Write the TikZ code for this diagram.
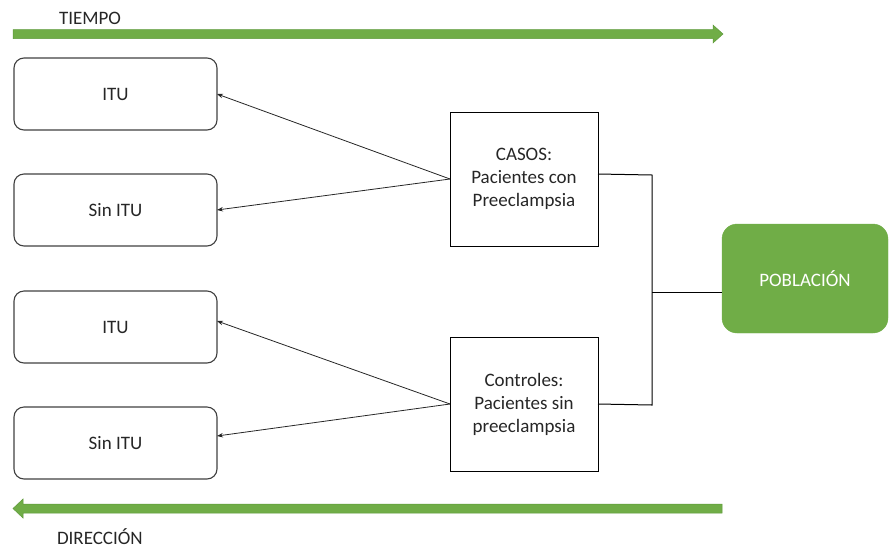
\documentclass[tikz,border=0pt]{standalone}
\usepackage{fontspec}
\setmainfont{Carlito}
\usetikzlibrary{arrows.meta}
\definecolor{ogreen}{HTML}{70AD47}
\definecolor{ogreendk}{HTML}{5E9A3A}
\definecolor{otext}{HTML}{262626}
\begin{document}
\begin{tikzpicture}[x=1pt,y=-1pt,
  every node/.style={font=\fontsize{19}{23}\selectfont, text=otext, inner sep=0pt, outer sep=0pt},
  rbox/.style={draw=black!75, line width=1.1pt, rounded corners=10pt, minimum width=203pt, minimum height=72pt},
  sbox/.style={draw=black, line width=1pt, minimum width=148pt, minimum height=134pt, align=center},
  pbox/.style={fill=ogreen, draw=ogreen, rounded corners=15pt, minimum width=166pt, minimum height=109pt, text=white},
  conn/.style={draw=black!85, line width=0.8pt, -{Stealth[length=6pt,width=4.5pt]}},
  line/.style={draw=black, line width=1pt},
  garrow/.style={fill=ogreen, draw=ogreendk, line width=0.5pt}
]
\useasboundingbox (0,0) rectangle (889,550);
% green arrows
\filldraw[garrow] (13,29.5) -- (713,29.5) -- (713,25) -- (723,34) -- (713,43) -- (713,38.5) -- (13,38.5) -- cycle;
\filldraw[garrow] (722,504) -- (23,504) -- (23,499) -- (13,508.5) -- (23,518) -- (23,513) -- (722,513) -- cycle;
\node[anchor=west] (tiempo) at (59,18) {TIEMPO};
\node[anchor=base west] (dir) at (57,544) {DIRECCIÓN};
% left boxes
\node[rbox] (itu1) at (115.5,94) {ITU};
\node[rbox] (sin1) at (115.5,210) {Sin ITU};
\node[rbox] (itu2) at (115.5,327) {ITU};
\node[rbox] (sin2) at (115.5,443) {Sin ITU};
% middle boxes
\node[sbox] (casos) at (524,179) {CASOS:\\Pacientes con\\Preeclampsia};
\node[sbox] (ctrl) at (524,404) {Controles:\\Pacientes sin\\preeclampsia};
% poblacion
\node[pbox] (pob) at (805,278.5) {POBLACIÓN};
% arrows
\draw[conn] (casos.west) -- (itu1.east);
\draw[conn] (casos.west) -- (sin1.east);
\draw[conn] (ctrl.west) -- ([yshift=6pt]itu2.east);
\draw[conn] (ctrl.west) -- ([yshift=7pt]sin2.east);
% bracket
\coordinate (jt) at (652,175);
\coordinate (jb) at (652,405);
\coordinate (jm) at (652,292);
\draw[line] ([yshift=5pt]casos.east) -- (jt) -- (jb) -- (ctrl.east);
\draw[line] (jm) -- (pob.west |- jm);
\end{tikzpicture}
\end{document}
